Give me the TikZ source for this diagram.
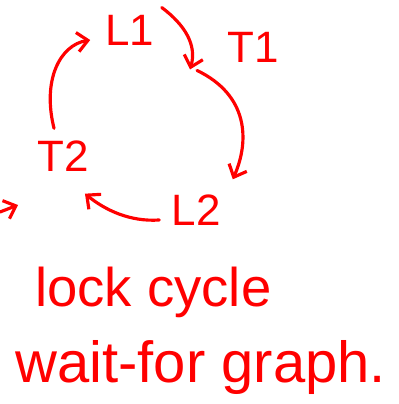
\documentclass[tikz,border=0pt]{standalone}
\usepackage{fontspec}
\setmainfont{Liberation Sans}
\usetikzlibrary{arrows.meta,calc}
\begin{document}
\begin{tikzpicture}[x=0.02cm,y=-0.02cm,
  ink/.style={draw=red, line width=1.8pt, line cap=round, line join=round},
  edge/.style={ink, -{Straight Barb[length=6pt,width=11pt,line width=1.8pt]}},
  lbl/.style={text=red, font=\fontsize{25}{29}\selectfont, inner sep=0pt},
  caption/.style={text=red, inner sep=0pt, anchor=base west}]
\useasboundingbox (0,0) rectangle (398,404);

% vertices of the wait-for graph
\node[lbl] (L1) at (130,30) {L1};
\node[lbl] (T1) at (253,47) {T1};
\node[lbl] (T2) at (63,156) {T2};
\node[lbl] (L2) at (196,210) {L2};

% edges of the cycle
\draw[edge] ($(L1.north east)+(7,-7)$) .. controls (185,25) and (197,45) .. ($(T1.south west)+(-37,7)$);
\draw[edge] ($(T1.south west)+(-30,8)$) .. controls (248,95) and (250,140) .. ($(L2.north east)+(12,-15)$);
\draw[edge] ($(L2.west)+(-12,10)$) .. controls (130,222) and (105,210) .. ($(T2.south east)+(-4,22)$);
\draw[edge] ($(T2.north west)+(17,-12)$) .. controls (42,80) and (60,45) .. ($(L1.west)+(-15,10)$);

% edge entering from the left border
\coordinate (edgeL) at (0,212);
\draw[edge] (edgeL) -- ++(18,-7);

% captions
\node[caption, font=\fontsize{31}{36}\selectfont] (cap1) at (35,306) {lock cycle};
\node[caption, font=\fontsize{33}{38}\selectfont] (cap2) at (15,382) {wait-for graph.};
\end{tikzpicture}
\end{document}
